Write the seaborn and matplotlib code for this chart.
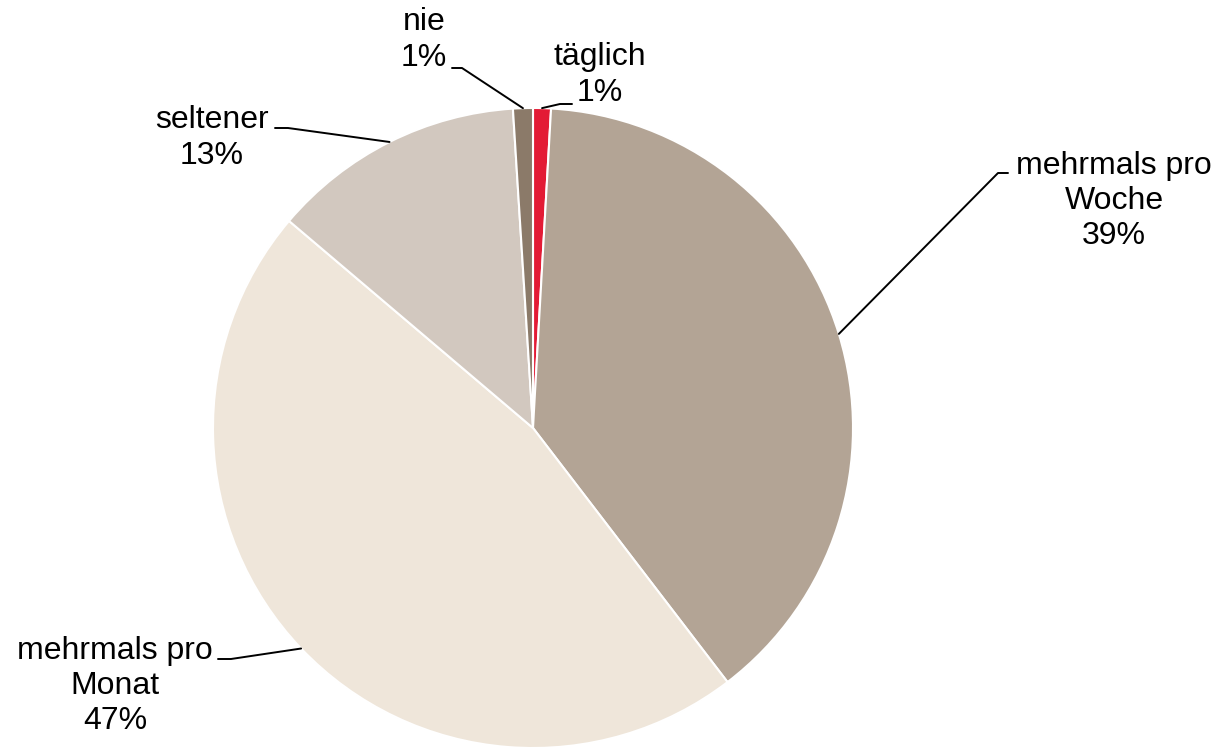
import numpy as np
import matplotlib
matplotlib.use("Agg")
import matplotlib.pyplot as plt
import seaborn as sns

# --------------------------------------------------------------
# Daten (im Uhrzeigersinn ab 12 Uhr)
# --------------------------------------------------------------
kategorien = ["täglich", "mehrmals pro\nWoche", "mehrmals pro\nMonat", "seltener", "nie"]
anteile = [0.9, 38.7, 46.6, 12.8, 1.0]
prozent_labels = ["1%", "39%", "47%", "13%", "1%"]
farben = ["#E31B35", "#B3A495", "#EFE6DA", "#D2C8BF", "#8B7A69"]

sns.set_theme(style="white")
plt.rcParams["font.family"] = ["Liberation Sans", "DejaVu Sans"]

W, H = 1220, 747
cx, cy, r = 533, 428, 320

fig = plt.figure(figsize=(W / 100, H / 100), dpi=100)
ax = fig.add_axes([(cx - r) / W, (H - cy - r) / H, 2 * r / W, 2 * r / H])

wedges, _ = ax.pie(anteile, colors=farben, startangle=90, counterclock=False,
                   radius=1, wedgeprops=dict(edgecolor="white", linewidth=1.5))
ax.set_xlim(-1, 1)
ax.set_ylim(-1, 1)
ax.set_aspect("equal")
ax.axis("off")


def px(x, y):
    # Pixel -> Datenkoordinaten
    return (x - cx) / r, (cy - y) / r


# Label-Positionen (Pixel): Textmitte, Knick, Ende der Führungslinie
layout = [
    ((600, 75), (560, 104), (572, 104)),
    ((1114, 201), (998, 173), (1008, 173)),
    ((115, 686), (231, 659), (218, 659)),
    ((212, 138), (288, 128), (275, 128)),
    ((424, 40), (462, 68), (452, 68)),
]

for w, kat, pl, (txt, knick, ende) in zip(wedges, kategorien, prozent_labels, layout):
    mid = np.deg2rad((w.theta1 + w.theta2) / 2)
    sx, sy = np.cos(mid), np.sin(mid)
    kx, ky = px(*knick)
    ex, ey = px(*ende)
    ax.plot([sx, kx, ex], [sy, ky, ey], color="black", lw=1.4, clip_on=False)
    tx, ty = px(*txt)
    ax.text(tx, ty, f"{kat}\n{pl}", ha="center", va="center", fontsize=23,
            linespacing=1.22, color="black", clip_on=False)

fig.savefig("out.png", dpi=100, facecolor="white")
